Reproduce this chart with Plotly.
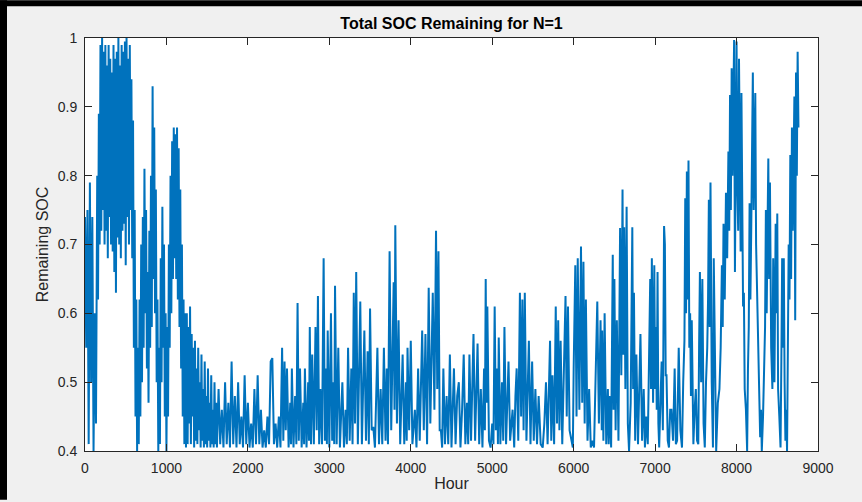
import plotly.graph_objects as go

# Hour / remaining SOC values (local peaks and troughs)
hours_a = [0, 15, 30, 45, 60, 75, 90, 105, 120, 135, 150, 160, 170, 180, 190,
           200, 210, 220, 230, 240, 250, 260, 270, 280, 290, 300, 310, 320, 330, 340,
           350, 360, 370, 380, 390, 400, 410, 420, 430, 440, 450, 460, 470, 480, 490,
           500, 510, 520, 530, 540, 550, 560, 570, 580,
           590, 600, 610, 620, 630, 640, 650, 660, 670, 680, 690, 700, 710, 720, 730,
           740, 750, 760, 770, 780, 790, 800, 810, 820, 830, 840, 850, 860, 870, 880,
           890, 900, 910, 920, 930, 940, 950, 960, 970, 980, 990, 1000, 1010, 1020,
           1030, 1040, 1050, 1060, 1070, 1080, 1090, 1100, 1110, 1120, 1130, 1140,
           1150, 1160, 1170, 1180, 1190, 1200, 1210, 1220, 1230, 1240]
soc_a = [0.74, 0.55, 0.75, 0.41, 0.79, 0.50, 0.74, 0.40, 0.60, 0.44, 0.80, 0.62, 0.89, 0.70, 0.99,
         0.72, 1.00, 0.75, 0.98, 0.70, 0.99, 0.72, 0.96, 0.68, 0.99, 0.74, 0.97, 0.70, 0.95, 0.69,
         0.99, 0.66, 0.97, 0.63, 0.98, 0.71, 1.00, 0.70, 0.96, 0.68, 0.99, 0.72, 0.98, 0.73, 0.995,
         0.67, 1.00, 0.74, 0.97, 0.70, 0.99, 0.75, 0.94, 0.68,
         0.88, 0.55, 0.75, 0.45, 0.62, 0.40, 0.55, 0.41, 0.62, 0.45, 0.70, 0.50, 0.74, 0.55, 0.81,
         0.60, 0.75, 0.52, 0.66, 0.47, 0.72, 0.55, 0.80, 0.58, 0.93, 0.65, 0.87, 0.60, 0.78, 0.50,
         0.62, 0.40, 0.55, 0.41, 0.68, 0.50, 0.755, 0.55, 0.70, 0.45, 0.60, 0.40, 0.58, 0.45,
         0.70, 0.55, 0.80, 0.60, 0.85, 0.65, 0.87, 0.68, 0.86, 0.65, 0.87, 0.62,
         0.84, 0.58, 0.78, 0.52, 0.70, 0.45, 0.62, 0.41, 0.60, 0.405]

hours_b = [1250, 1260, 1270, 1280, 1290, 1300, 1310, 1320, 1330, 1340, 1350, 1360, 1370, 1380,
           1390, 1400, 1410, 1420, 1430, 1440, 1450, 1460, 1470, 1480, 1490, 1500, 1510, 1520,
           1530, 1540, 1550, 1560, 1570, 1580, 1590, 1600, 1610, 1620, 1640, 1660, 1680, 1700,
           1720, 1740, 1760, 1780, 1800, 1820, 1840, 1860, 1880, 1900, 1920, 1940, 1960, 1980,
           2000, 2020, 2040, 2060, 2080, 2100, 2120, 2140, 2160, 2180, 2200, 2220, 2240, 2260,
           2280]
soc_b = [0.60, 0.41, 0.58, 0.44, 0.61, 0.41, 0.57, 0.45, 0.55, 0.405, 0.56, 0.415, 0.52, 0.41,
         0.55, 0.43, 0.50, 0.405, 0.54, 0.415, 0.49, 0.405, 0.53, 0.41, 0.48, 0.405, 0.52, 0.415,
         0.47, 0.405, 0.51, 0.41, 0.46, 0.405, 0.50, 0.41, 0.47, 0.405, 0.49, 0.41, 0.46, 0.405,
         0.50, 0.41, 0.47, 0.405, 0.53, 0.41, 0.48, 0.405, 0.50, 0.41, 0.45, 0.405, 0.51, 0.41,
         0.47, 0.405, 0.44, 0.405, 0.49, 0.41, 0.51, 0.41, 0.46, 0.405, 0.43, 0.405, 0.45, 0.41,
         0.53]

hours_c = [2300, 2320, 2340, 2360, 2380, 2400, 2420, 2435, 2450, 2465, 2480, 2500, 2520, 2530,
           2540, 2560, 2580, 2595, 2610, 2625, 2640, 2660, 2680, 2690, 2700, 2720, 2740, 2750,
           2760, 2775, 2790, 2810, 2830, 2845, 2860, 2875, 2890, 2910, 2930, 2945, 2960, 2970,
           2980, 3000, 3020, 3035, 3050, 3060, 3070, 3090, 3110, 3130, 3145, 3160, 3180, 3200,
           3215, 3230, 3250, 3270, 3285, 3300, 3315, 3330, 3350, 3380, 3400, 3415, 3430, 3450,
           3470, 3485, 3500, 3520, 3540, 3560, 3575, 3590, 3610, 3630, 3650, 3670, 3690, 3705,
           3720, 3740, 3760, 3790, 3800, 3810, 3830, 3850, 3870, 3900, 3920, 3940, 3950, 3960,
           3980, 4000, 4020, 4050, 4070, 4090, 4110, 4140, 4160, 4180, 4200, 4220, 4240, 4270,
           4290, 4310, 4325, 4340, 4355, 4370, 4385, 4400, 4420, 4440, 4460, 4480, 4500, 4530,
           4550, 4570, 4590, 4610, 4630, 4650, 4670, 4690, 4705, 4720, 4740]
soc_c = [0.535, 0.41, 0.44, 0.405, 0.45, 0.405, 0.55, 0.415, 0.53, 0.43, 0.52, 0.405, 0.47, 0.41,
         0.52, 0.405, 0.48, 0.41, 0.615, 0.415, 0.52, 0.405, 0.47, 0.41, 0.52, 0.405, 0.50, 0.415,
         0.58, 0.41, 0.54, 0.41, 0.58, 0.43, 0.625, 0.41, 0.49, 0.41, 0.68, 0.415, 0.52, 0.41,
         0.575, 0.405, 0.60, 0.415, 0.50, 0.41, 0.64, 0.41, 0.55, 0.405, 0.47, 0.50, 0.405, 0.46,
         0.41, 0.55, 0.415, 0.52, 0.41, 0.63, 0.44, 0.66, 0.41, 0.617, 0.41, 0.50, 0.575, 0.415,
         0.545, 0.41, 0.607, 0.43, 0.435, 0.405, 0.48, 0.55, 0.41, 0.49, 0.41, 0.55, 0.415, 0.52,
         0.41, 0.69, 0.43, 0.645, 0.46, 0.728, 0.44, 0.59, 0.41, 0.54, 0.41, 0.50, 0.415, 0.55,
         0.43, 0.56, 0.41, 0.46, 0.405, 0.52, 0.415, 0.575, 0.43, 0.57, 0.41, 0.637, 0.44, 0.63,
         0.46, 0.72, 0.49, 0.69, 0.43, 0.43, 0.405, 0.52, 0.41, 0.48, 0.41, 0.54, 0.405, 0.52,
         0.41, 0.48, 0.50, 0.405, 0.46, 0.54, 0.41, 0.47, 0.41, 0.54, 0.415]

hours_d = [4770, 4790, 4820, 4840, 4860, 4880, 4900, 4910, 4920, 4930, 4940, 4960, 4980, 5000,
           5015, 5030, 5045, 5060, 5070, 5080, 5100, 5120, 5135, 5150, 5170, 5200, 5220, 5250,
           5270, 5285, 5300, 5320, 5340, 5355, 5370, 5385, 5400, 5420, 5450, 5470, 5490, 5510,
           5530, 5550, 5570, 5595, 5620, 5640, 5660, 5680, 5710, 5725, 5740, 5760, 5780, 5795,
           5810, 5825, 5840, 5860, 5880, 5900, 5915, 5930, 5950, 5970, 5990, 6000, 6020, 6035,
           6050, 6070, 6090, 6105, 6120, 6135, 6150, 6170, 6190, 6210, 6230, 6250, 6270, 6290,
           6310, 6330, 6345, 6350, 6365, 6380, 6400, 6420, 6430, 6440, 6460, 6480, 6490, 6500,
           6515, 6530, 6550, 6570, 6585, 6600, 6610, 6620, 6635, 6650, 6665, 6680, 6700, 6720,
           6730, 6740, 6755, 6770, 6790, 6820, 6840, 6860, 6875, 6890, 6910, 6940, 6950, 6960,
           6975, 6990, 7000, 7010, 7020, 7030, 7040, 7050]
soc_d = [0.57, 0.415, 0.556, 0.41, 0.49, 0.405, 0.52, 0.43, 0.65, 0.47, 0.61, 0.415, 0.405, 0.44,
         0.41, 0.61, 0.43, 0.52, 0.41, 0.565, 0.41, 0.50, 0.415, 0.58, 0.41, 0.53, 0.415, 0.46,
         0.405, 0.48, 0.52, 0.415, 0.63, 0.45, 0.62, 0.43, 0.63, 0.415, 0.56, 0.41, 0.53, 0.415,
         0.49, 0.41, 0.48, 0.41, 0.405, 0.44, 0.50, 0.41, 0.56, 0.415, 0.51, 0.41, 0.61, 0.44,
         0.59, 0.43, 0.56, 0.41, 0.50, 0.625, 0.45, 0.61, 0.43, 0.415, 0.405, 0.52, 0.67, 0.45,
         0.68, 0.46, 0.697, 0.47, 0.675, 0.44, 0.62, 0.415, 0.49, 0.405, 0.415, 0.405, 0.50, 0.617,
         0.44, 0.59, 0.43, 0.575, 0.415, 0.60, 0.41, 0.49, 0.41, 0.48, 0.405, 0.685, 0.46, 0.65,
         0.43, 0.59, 0.415, 0.724, 0.51, 0.78, 0.54, 0.725, 0.49, 0.755, 0.44, 0.40, 0.47, 0.725,
         0.49, 0.63, 0.415, 0.54, 0.41, 0.57, 0.415, 0.49, 0.405, 0.45, 0.41, 0.65, 0.49, 0.68,
         0.47, 0.67, 0.49, 0.58, 0.46, 0.66, 0.44, 0.405]

hours_e = [7065, 7080, 7095, 7110, 7120, 7130, 7140, 7155, 7170, 7185, 7200, 7220, 7240, 7255,
           7270, 7290, 7310, 7330, 7345, 7360, 7370, 7380, 7390, 7400, 7410, 7420, 7430, 7440,
           7450, 7460, 7470, 7485, 7500, 7515, 7530, 7540, 7550, 7565, 7580, 7595, 7610, 7625,
           7640, 7650, 7660, 7670, 7680, 7695, 7710, 7720, 7735, 7750, 7770, 7790, 7805, 7820,
           7830, 7840, 7855, 7870, 7885, 7900, 7910, 7920, 7930, 7940, 7950, 7960, 7970, 7980,
           7990, 8000, 8010, 8020, 8030, 8040, 8050, 8060, 8070, 8080, 8090, 8100, 8115, 8130,
           8140, 8150, 8160, 8170, 8180, 8190, 8200, 8210, 8220, 8230, 8240, 8255, 8270, 8280,
           8290, 8300, 8310, 8325, 8340, 8350, 8360, 8370, 8380, 8390, 8400, 8410, 8425, 8440,
           8450, 8465, 8480, 8490, 8500, 8510, 8525, 8540, 8550, 8560, 8570, 8580, 8590, 8600,
           8610, 8620, 8630, 8640, 8650, 8660, 8670, 8680, 8690, 8700, 8710, 8720, 8730, 8740,
           8750, 8760]
soc_e = [0.47, 0.53, 0.43, 0.727, 0.70, 0.51, 0.51, 0.415, 0.405, 0.46, 0.46, 0.415, 0.52, 0.41,
         0.415, 0.55, 0.43, 0.405, 0.50, 0.56, 0.767, 0.60, 0.806, 0.62, 0.822, 0.55, 0.60, 0.48,
         0.59, 0.43, 0.41, 0.46, 0.49, 0.415, 0.41, 0.55, 0.66, 0.50, 0.65, 0.44, 0.405, 0.50,
         0.55, 0.62, 0.765, 0.58, 0.79, 0.50, 0.405, 0.68, 0.48, 0.40, 0.47, 0.49, 0.55, 0.67,
         0.58, 0.73, 0.62, 0.775, 0.68, 0.835, 0.72, 0.917, 0.75, 0.956, 0.80, 0.98, 0.997, 0.66,
         0.90, 0.995, 0.78, 0.72, 0.97, 0.80, 0.69, 0.92, 0.70, 0.61, 0.63, 0.49, 0.46, 0.40,
         0.52, 0.58, 0.76, 0.62, 0.72, 0.825, 0.95, 0.75, 0.86, 0.92, 0.70, 0.62, 0.54, 0.48,
         0.42, 0.46, 0.40, 0.45, 0.52, 0.58, 0.75, 0.60, 0.72, 0.825, 0.65, 0.79, 0.55, 0.49,
         0.68, 0.50, 0.73, 0.60, 0.745, 0.49, 0.45, 0.405, 0.53, 0.68, 0.55, 0.68, 0.50, 0.415,
         0.46, 0.40, 0.55, 0.70, 0.62, 0.83, 0.65, 0.87, 0.72, 0.88, 0.915, 0.59, 0.95, 0.80,
         0.98, 0.87]

hours = hours_a + hours_b + hours_c + hours_d + hours_e
soc = soc_a + soc_b + soc_c + soc_d + soc_e

x_ticks = [0, 1000, 2000, 3000, 4000, 5000, 6000, 7000, 8000, 9000]
x_tick_labels = ["0", "1000", "2000", "3000", "4000", "5000", "6000", "7000", "8000", "9000"]
y_ticks = [0.4, 0.5, 0.6, 0.7, 0.8, 0.9, 1.0]
y_tick_labels = ["0.4", "0.5", "0.6", "0.7", "0.8", "0.9", "1"]

AX = "#262626"
FONT = "Liberation Sans, Arial, Helvetica, sans-serif"

fig = go.Figure()
fig.add_trace(go.Scatter(x=hours, y=soc, mode="lines",
                         line=dict(color="#0072BD", width=2.0),
                         showlegend=False, hoverinfo="x+y"))

axis_common = dict(showgrid=False, zeroline=False, showline=True, linecolor=AX,
                   linewidth=1, mirror="ticks", ticks="inside", ticklen=7,
                   tickcolor=AX, tickwidth=1,
                   tickfont=dict(family=FONT, size=14, color=AX))

fig.update_layout(
    width=862, height=502,
    margin=dict(l=85, r=44, t=38, b=49),
    paper_bgcolor="#f0f0f0",
    plot_bgcolor="#ffffff",
    font=dict(family=FONT, color=AX),
    title=dict(text="<b>Total SOC Remaining for N=1</b>",
               font=dict(family=FONT, size=16, color="#000000"),
               x=0.5, xref="paper", xanchor="center",
               y=1 - 23 / 502, yref="container", yanchor="middle"),
    xaxis=dict(range=[0, 9000], tickvals=x_ticks, ticktext=x_tick_labels,
               title=dict(text="Hour", font=dict(family=FONT, size=16, color=AX), standoff=3),
               ticklabelstandoff=4,
               **axis_common),
    yaxis=dict(range=[0.4, 1.0], tickvals=y_ticks, ticktext=y_tick_labels,
               title=dict(text="Remaining SOC", font=dict(family=FONT, size=16, color=AX), standoff=5),
               ticklabelstandoff=4,
               **axis_common),
    shapes=[
        dict(type="rect", xref="paper", yref="paper",
             x0=-85 / 733, x1=(862 - 85) / 733, y0=(453 - 6) / 415, y1=453 / 415,
             fillcolor="#000000", line=dict(width=0), layer="above"),
        dict(type="rect", xref="paper", yref="paper",
             x0=-85 / 733, x1=(7 - 85) / 733, y0=(453 - 502) / 415, y1=453 / 415,
             fillcolor="#000000", line=dict(width=0), layer="above"),
    ],
)

fig.write_html("out.html")
